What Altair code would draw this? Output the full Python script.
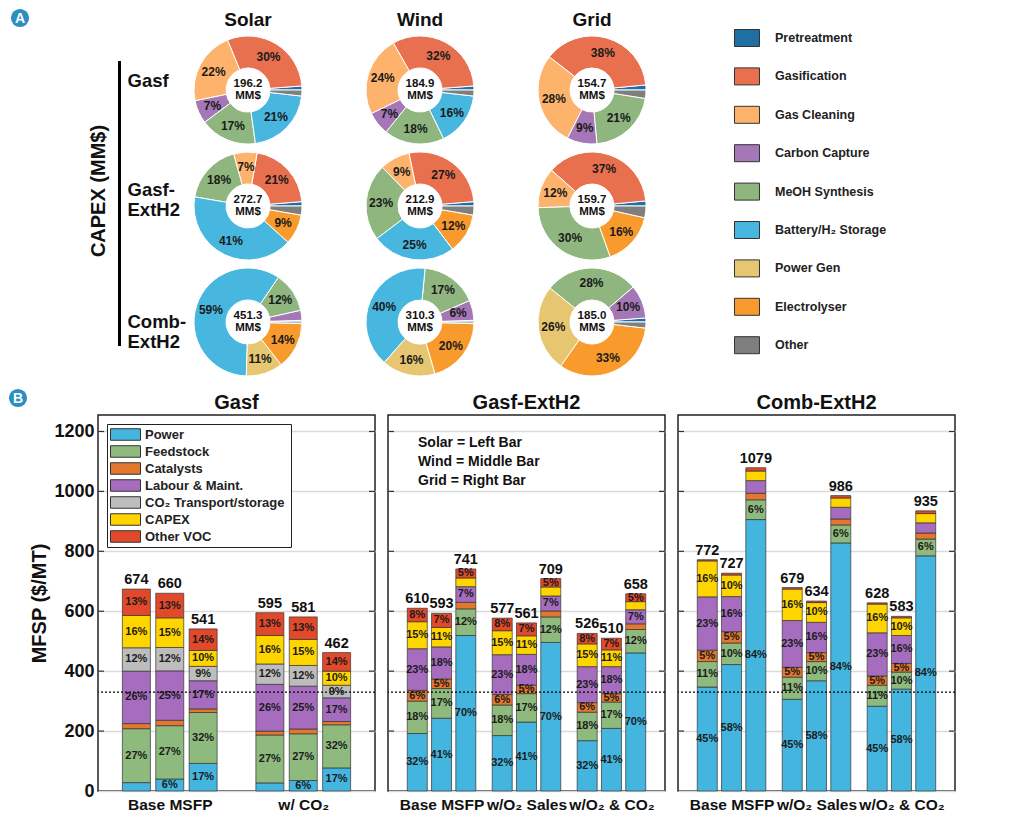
import math
import altair as alt
import pandas as pd

FONT = "Liberation Sans"

# ---------------- Panel A: CAPEX breakdown (donuts) ----------------
capex_categories = ["Pretreatment", "Gasification", "Gas Cleaning", "Carbon Capture",
                    "MeOH Synthesis", "Battery/H₂  Storage", "Power Gen", "Electrolyser", "Other"]
capex_colors = ["#1f6fa5", "#e8704f", "#fdb36b", "#a677b7", "#8eb67e",
                "#47b7df", "#e7c671", "#f89b2c", "#7f7f7f"]
capex_sources = ["Solar", "Wind", "Grid"]
capex_schemes = ["Gasf", "Gasf-ExtH2", "Comb-ExtH2"]
capex_scheme_labels = ["Gasf", "Gasf-\nExtH2", "Comb-\nExtH2"]

# total CAPEX (MM$) per source: Solar, Wind, Grid
capex_total_gasf = [196.2, 184.9, 154.7]
capex_total_gasf_exth2 = [272.7, 212.9, 159.7]
capex_total_comb_exth2 = [451.3, 310.3, 185.0]

# shares (%) in category order
share_gasf_solar = [1.2, 30, 22, 7, 17, 21, 0, 0, 1.8]
share_gasf_wind = [1.2, 32, 24, 7, 18, 16, 0, 0, 1.8]
share_gasf_grid = [1.5, 38, 28, 9, 21, 0, 0, 0, 2.5]
share_gext_solar = [1.3, 21, 7, 0, 18, 41, 0, 9, 2.7]
share_gext_wind = [1.3, 27, 9, 0, 23, 25, 0, 12, 2.7]
share_gext_grid = [1.5, 37, 12, 0, 30, 0, 0, 16, 3.5]
share_comb_solar = [0.5, 0, 0, 3, 12, 59, 11, 14, 0.5]
share_comb_wind = [0.5, 0, 0, 6, 17, 40, 16, 20, 0.5]
share_comb_grid = [1.2, 0, 0, 10, 28, 0, 26, 33, 1.8]

# ---------------- Panel B: MFSP breakdown (stacked bars) ----------------
bar_categories = ["Power", "Feedstock", "Catalysts", "Labour & Maint.",
                  "CO₂  Transport/storage", "CAPEX", "Other VOC"]
bar_colors = ["#43b5df", "#8fba7e", "#e4772f", "#a66dbf", "#bdbdbd", "#ffd500", "#e2492b"]
msfp_ticks = [0, 200, 400, 600, 800, 1000, 1200]
target_msfp = [330]

gasf_groups = ["Base MSFP", "w/  CO₂"]
gasf_power = [28, 40, 92, 27, 35, 77]
gasf_feed = [180, 178, 170, 160, 156, 144]
gasf_cat = [17, 18, 12, 13, 16, 11]
gasf_labour = [175, 165, 94, 156, 143, 79]
gasf_co2 = [78, 78, 48, 68, 69, 42]
gasf_capex = [108, 99, 53, 95, 87, 47]
gasf_other = [88, 82, 72, 76, 75, 62]
gasf_totals = [674, 660, 541, 595, 581, 462]
gasf_lbl_power = ["", "6%", "17%", "", "6%", "17%"]
gasf_lbl_feed = ["27%", "27%", "32%", "27%", "27%", "32%"]
gasf_lbl_cat = ["", "", "", "", "", ""]
gasf_lbl_labour = ["26%", "25%", "17%", "26%", "25%", "17%"]
gasf_lbl_co2 = ["12%", "12%", "9%", "12%", "12%", "9%"]
gasf_lbl_capex = ["16%", "15%", "10%", "16%", "15%", "10%"]
gasf_lbl_other = ["13%", "13%", "14%", "13%", "13%", "14%"]

ext_groups = ["Base MSFP", "w/O₂ Sales", "w/O₂  & CO₂"]
gext_power = [192, 243, 519, 185, 230, 496, 168, 209, 461]
gext_feed = [108, 99, 89, 102, 95, 85, 95, 88, 78]
gext_cat = [36, 32, 22, 35, 28, 20, 32, 28, 19]
gext_labour = [139, 107, 52, 133, 103, 50, 120, 90, 47]
gext_co2 = [0, 0, 0, 0, 0, 0, 0, 0, 0]
gext_capex = [90, 65, 29, 80, 62, 30, 76, 56, 27]
gext_other = [45, 47, 30, 42, 43, 28, 35, 39, 26]
gext_totals = [610, 593, 741, 577, 561, 709, 526, 510, 658]
gext_lbl_power = ["32%", "41%", "70%"] * 3
gext_lbl_feed = ["18%", "17%", "12%"] * 3
gext_lbl_cat = ["6%", "5%", ""] * 3
gext_lbl_labour = ["23%", "18%", "7%"] * 3
gext_lbl_co2 = [""] * 9
gext_lbl_capex = ["15%", "11%", ""] * 3
gext_lbl_other = ["8%", "7%", "5%"] * 3

comb_power = [347, 422, 906, 306, 368, 828, 283, 340, 785]
comb_feed = [85, 72, 66, 74, 64, 60, 70, 57, 56]
comb_cat = [38, 38, 22, 33, 30, 20, 31, 29, 20]
comb_labour = [178, 117, 42, 156, 101, 39, 144, 93, 34]
comb_co2 = [0, 0, 0, 0, 0, 0, 0, 0, 0]
comb_capex = [120, 72, 32, 105, 66, 31, 96, 59, 31]
comb_other = [4, 6, 11, 5, 5, 8, 4, 5, 9]
comb_totals = [772, 727, 1079, 679, 634, 986, 628, 583, 935]
comb_lbl_power = ["45%", "58%", "84%"] * 3
comb_lbl_feed = ["11%", "10%", "6%"] * 3
comb_lbl_cat = ["5%", "5%", ""] * 3
comb_lbl_labour = ["23%", "16%", ""] * 3
comb_lbl_co2 = [""] * 9
comb_lbl_capex = ["16%", "10%", ""] * 3
comb_lbl_other = [""] * 9

BADGE = "#2b8fc0"
CELL = 116

# ================= build Panel A =================
capex_shares = {
    ("Gasf", "Solar"): share_gasf_solar, ("Gasf", "Wind"): share_gasf_wind,
    ("Gasf", "Grid"): share_gasf_grid,
    ("Gasf-ExtH2", "Solar"): share_gext_solar, ("Gasf-ExtH2", "Wind"): share_gext_wind,
    ("Gasf-ExtH2", "Grid"): share_gext_grid,
    ("Comb-ExtH2", "Solar"): share_comb_solar, ("Comb-ExtH2", "Wind"): share_comb_wind,
    ("Comb-ExtH2", "Grid"): share_comb_grid,
}
capex_totals = {"Gasf": capex_total_gasf, "Gasf-ExtH2": capex_total_gasf_exth2,
                "Comb-ExtH2": capex_total_comb_exth2}

rows = []
for sch in capex_schemes:
    for j, src in enumerate(capex_sources):
        tot = capex_totals[sch][j]
        for k, (cat, v) in enumerate(zip(capex_categories, capex_shares[(sch, src)])):
            rows.append(dict(scheme=sch, source=src, cat=cat, k=k, share=v,
                             label=(f"{v:g}%" if v >= 5 else ""),
                             center=f"{tot:.1f}\nMM$"))
donut_df = pd.DataFrame(rows)

theta = alt.Theta("share:Q", stack=True,
                  scale=alt.Scale(range=[math.pi / 2, math.pi / 2 + 2 * math.pi]))
order = alt.Order("k:Q", sort="descending")

arcs = alt.Chart().mark_arc(innerRadius=22, outerRadius=54, stroke="white", strokeWidth=1).encode(
    theta=theta, order=order,
    color=alt.Color("cat:N", scale=alt.Scale(domain=capex_categories, range=capex_colors),
                    legend=alt.Legend(title=None, orient="none", legendX=636, legendY=-3,
                                      symbolType="M-1.47,-1H1.47V1H-1.47Z", symbolSize=289,
                                      symbolStrokeColor="#333", symbolStrokeWidth=1,
                                      symbolOffset=4,
                                      labelFont=FONT, labelFontSize=12.5, labelFontWeight="bold",
                                      labelColor="#222", labelOffset=19, rowPadding=16.4,
                                      padding=0)),
).transform_filter("datum.share > 0")

arc_labels = alt.Chart().mark_text(radius=39, font=FONT, fontSize=12, fontWeight="bold",
                                   color="#1a1a1a").encode(
    theta=theta, order=order, text="label:N")

arc_center = alt.Chart().mark_text(radius=0, font=FONT, fontSize=11.5, fontWeight="bold",
                                   color="#111", lineBreak="\n", lineHeight=12, dy=-6).encode(
    theta=theta, order=order, text="center:N").transform_filter("datum.k == 0")

donuts = alt.layer(arcs, arc_labels, arc_center, data=donut_df).properties(
    width=CELL, height=CELL
).facet(
    row=alt.Row("scheme:N", sort=capex_schemes, title=None, header=alt.Header(labels=False)),
    column=alt.Column("source:N", sort=capex_sources, title=None,
                      header=alt.Header(labelFont=FONT, labelFontSize=19, labelFontWeight="bold",
                                        labelColor="#111", labelPadding=2)),
    spacing={"row": 0, "column": 56},
)

one = pd.DataFrame({"t": ["CAPEX (MM$)"], "a": ["A"], "b": ["B"]})
row_df = pd.DataFrame({"scheme": capex_schemes, "name": capex_scheme_labels})
row_y = alt.Y("scheme:N", sort=capex_schemes, axis=None,
              scale=alt.Scale(paddingInner=0, paddingOuter=0))
row_layers = []
for sch, shift in zip(capex_schemes, [-9, -16, 0]):
    row_layers.append(
        alt.Chart(row_df).mark_text(font=FONT, fontSize=18.5, fontWeight="bold", color="#111",
                                    align="left", lineBreak="\n", lineHeight=20, dy=shift).encode(
            x=alt.value(29.5), y=row_y, text="name:N"
        ).transform_filter(alt.datum.scheme == sch))

left = alt.layer(
    alt.Chart(one).mark_circle(size=330, color=BADGE, opacity=1).encode(
        x=alt.value(-78), y=alt.value(-14)),
    alt.Chart(one).mark_text(font=FONT, fontSize=14, fontWeight="bold", color="white").encode(
        x=alt.value(-78), y=alt.value(-13.5), text="a:N"),
    alt.Chart(one).mark_rule(color="black", strokeWidth=3).encode(
        x=alt.value(21.5), y=alt.value(29), y2=alt.value(314)),
    alt.Chart(one).mark_text(angle=270, font=FONT, fontSize=20, fontWeight="bold",
                             color="#111").encode(
        x=alt.value(0.5), y=alt.value(159), text="t:N"),
    *row_layers,
).properties(width=91.5, height=3 * CELL)

top = alt.hconcat(left, donuts, spacing=0)


# ================= build Panel B =================
def panel(title, groups, step, bar_w, values, labels, totals, first=False, note=None):
    W, H = 277, 376
    recs, tots = [], []
    for b, total in enumerate(totals):
        g, s = divmod(b, 3)
        pos = g * step + s
        base = 0
        for k, cat in enumerate(bar_categories):
            v = values[k][b]
            recs.append(dict(pos=pos, cat=cat, k=k, v=v, y0=base, y1=base + v,
                             mid=base + v / 2, label=labels[k][b]))
            base += v
        tots.append(dict(pos=pos, total=total, text=str(total)))
    df = pd.DataFrame(recs)
    tdf = pd.DataFrame(tots)
    xmax = (len(groups) - 1) * step + 3
    centers = [g * step + 1 for g in range(len(groups))]
    expr = " : ".join(f"datum.value == {c} ? '{lab}'" for c, lab in zip(centers, groups)) + " : ''"
    xenc = alt.X("pos:Q", scale=alt.Scale(domain=[-1, xmax], nice=False, zero=False),
                 axis=alt.Axis(values=centers, labelExpr=expr, title=None, grid=False,
                               ticks=False, domain=False, labelFont=FONT, labelFontSize=15.5,
                               labelFontWeight="bold", labelColor="#111", labelPadding=6,
                               labelOverlap=False, labelBound=False))
    if first:
        yaxis = alt.Axis(values=msfp_ticks, format="d", title="MFSP ($/MT)", titleFont=FONT,
                         titleFontSize=20, titleFontWeight="bold", titleColor="#111",
                         titlePadding=4, labelFont=FONT, labelFontSize=18,
                         labelFontWeight="bold", labelColor="#111", labelPadding=4,
                         ticks=False, domain=False, grid=True, gridColor="#dadada",
                         gridWidth=1.5)
        cenc = alt.Color("cat:N", scale=alt.Scale(domain=bar_categories, range=bar_colors),
                         legend=alt.Legend(title=None, orient="top-left", offset=9,
                                           strokeColor="#222", fillColor="white", padding=2,
                                           symbolOffset=8,
                                           symbolType="M-1.875,-0.72H1.875V0.72H-1.875Z",
                                           symbolSize=256, symbolStrokeColor="#333",
                                           symbolStrokeWidth=1, labelFont=FONT,
                                           labelFontSize=13, labelFontWeight="bold",
                                           labelColor="#222", labelOffset=11, rowPadding=0))
    else:
        yaxis = alt.Axis(values=msfp_ticks, title=None, labels=False, ticks=False,
                         domain=False, grid=True, gridColor="#dadada", gridWidth=1.5)
        cenc = alt.Color("cat:N", scale=alt.Scale(domain=bar_categories, range=bar_colors),
                         legend=None)
    yscale = alt.Scale(domain=[0, 1255], nice=False)

    bars = alt.Chart(df).mark_bar(size=bar_w, stroke="#333", strokeWidth=0.7).encode(
        x=xenc, y=alt.Y("y0:Q", scale=yscale, axis=yaxis), y2="y1:Q", color=cenc,
        order=alt.Order("k:Q"),
    ).transform_filter("datum.v > 0")

    tick_df = pd.DataFrame({"v": msfp_ticks[1:]})
    tl = alt.Chart(tick_df).mark_rule(color="#333", strokeWidth=1.2).encode(
        y=alt.Y("v:Q", scale=yscale), x=alt.value(0), x2=alt.value(6))
    tr = alt.Chart(tick_df).mark_rule(color="#333", strokeWidth=1.2).encode(
        y=alt.Y("v:Q", scale=yscale), x=alt.value(W - 6), x2=alt.value(W))

    dotted = alt.Chart(pd.DataFrame({"v": target_msfp})).mark_rule(
        color="black", strokeDash=[2, 2], strokeWidth=1.4).encode(y=alt.Y("v:Q", scale=yscale))

    pct = alt.Chart(df).mark_text(font=FONT, fontSize=11, fontWeight="bold",
                                  color="#1b1b1b").encode(
        x="pos:Q", y="mid:Q", text="label:N").transform_filter("datum.label != ''")

    tot = alt.Chart(tdf).mark_text(font=FONT, fontSize=14.5, fontWeight="bold", color="#111",
                                   dy=-9).encode(x="pos:Q", y="total:Q", text="text:N")

    ttl = alt.Chart(pd.DataFrame({"t": [title]})).mark_text(
        font=FONT, fontSize=20, fontWeight="bold", color="#111").encode(
        x=alt.value(W / 2), y=alt.value(-12), text="t:N")

    layers = [bars, tl, tr, dotted, pct, tot, ttl]
    if first:
        layers.append(alt.Chart(one).mark_circle(size=330, color=BADGE, opacity=1).encode(
            x=alt.value(-80), y=alt.value(-17)))
        layers.append(alt.Chart(one).mark_text(font=FONT, fontSize=14, fontWeight="bold",
                                               color="white").encode(
            x=alt.value(-80), y=alt.value(-16.5), text="b:N"))
    if note is not None:
        layers.append(alt.Chart(pd.DataFrame({"n": [note]})).mark_text(
            font=FONT, fontSize=14, fontWeight="bold", color="#111", align="left",
            baseline="top", lineBreak="\n", lineHeight=19).encode(
            x=alt.value(30), y=alt.value(21), text="n:N"))
    return alt.layer(*layers).properties(
        width=W, height=H,
        view=alt.ViewBackground(stroke="#222", strokeWidth=1.5),
    )


p1 = panel("Gasf", gasf_groups, 4, 28,
           [gasf_power, gasf_feed, gasf_cat, gasf_labour, gasf_co2, gasf_capex, gasf_other],
           [gasf_lbl_power, gasf_lbl_feed, gasf_lbl_cat, gasf_lbl_labour, gasf_lbl_co2,
            gasf_lbl_capex, gasf_lbl_other], gasf_totals, first=True)
p2 = panel("Gasf-ExtH2", ext_groups, 3.5, 20,
           [gext_power, gext_feed, gext_cat, gext_labour, gext_co2, gext_capex, gext_other],
           [gext_lbl_power, gext_lbl_feed, gext_lbl_cat, gext_lbl_labour, gext_lbl_co2,
            gext_lbl_capex, gext_lbl_other], gext_totals,
           note="Solar = Left Bar\nWind = Middle Bar\nGrid = Right Bar")
p3 = panel("Comb-ExtH2", ext_groups, 3.5, 20,
           [comb_power, comb_feed, comb_cat, comb_labour, comb_co2, comb_capex, comb_other],
           [comb_lbl_power, comb_lbl_feed, comb_lbl_cat, comb_lbl_labour, comb_lbl_co2,
            comb_lbl_capex, comb_lbl_other], comb_totals)

bottom = alt.hconcat(p1, p2, p3, spacing=9).resolve_scale(color="independent")

chart = alt.vconcat(top, bottom, spacing=8).resolve_scale(color="independent").properties(
    padding=0
).configure(font=FONT).configure_view(strokeWidth=0)

chart.save("out.html", embed_options={"renderer": "svg", "actions": False})
